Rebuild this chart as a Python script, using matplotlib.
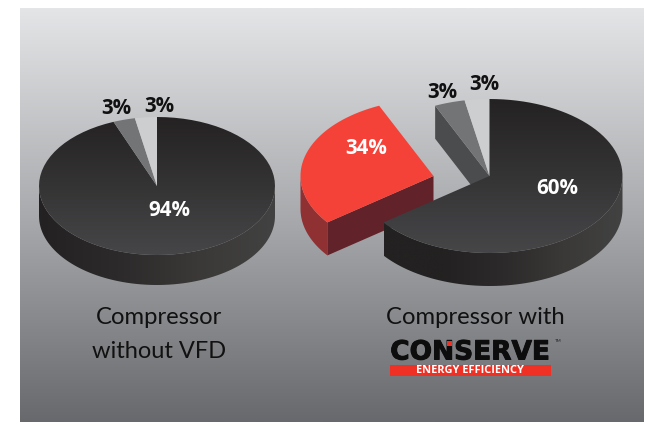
import numpy as np
import matplotlib
matplotlib.use("Agg", force=True)
import matplotlib.pyplot as plt
import matplotlib.patheffects as pe
from matplotlib.colors import LinearSegmentedColormap
from matplotlib.patches import Polygon, Rectangle

# wedge widths as drawn (%), clockwise from 12 o'clock; the artwork's 60/34 wedges
# are not drawn to their printed sizes, so the labels are kept separately
left_shares = [94, 3, 3]
left_labels = ["94%", "3%", "3%"]
right_shares = [64.7, 28.6, 3.7, 3.0]
right_labels = ["60%", "34%", "3%", "3%"]
captions_left = ["Compressor", "without VFD"]
caption_right = "Compressor with"
logo_name = "CONSERVE"
logo_tag = "ENERGY EFFICIENCY"

FONT = "Lato"
BOLD_FONT = "Open Sans"
DARK_TOP = ["#242222", "#464648"]
DARK_WALL = ["#232121", "#2c2a2a", "#3a3937", "#424242"]


def pt(c, r, theta):
    return (c[0] + r[0] * np.sin(theta), c[1] - r[1] * np.cos(theta))


def arc(c, r, a, b, n=80):
    th = np.linspace(a, b, n)
    return np.column_stack(pt(c, r, th))


def grad(ax, colors, box, vertical=True, clip=None, z=2):
    cmap = LinearSegmentedColormap.from_list("g", colors)
    ramp = np.linspace(0, 1, 256)
    img = ramp[:, None] if vertical else ramp[None, :]
    im = ax.imshow(img, cmap=cmap, extent=(box[0], box[2], box[3], box[1]),
                   aspect="auto", zorder=z, vmin=0, vmax=1, interpolation="bilinear",
                   origin="upper")
    if clip is not None:
        patch = Polygon(clip, closed=True, transform=ax.transData, fc="none", ec="none")
        ax.add_patch(patch)
        im.set_clip_path(patch)
    return im


def top_wedge(c, r, a, b):
    return np.vstack([[c], arc(c, r, a, b)])


def wall(c, r, depth, a, b):
    # only the front half of the rim is visible
    lo, hi = max(a, np.pi / 2), min(b, 3 * np.pi / 2)
    if hi <= lo:
        return None
    upper = arc(c, r, lo, hi)
    lower = upper[::-1] + [0, depth]
    return np.vstack([upper, lower])


def cut_face(c, r, depth, theta):
    p = np.array(pt(c, r, theta))
    c = np.array(c, dtype=float)
    return np.array([c, p, p + [0, depth], c + [0, depth]])


def edges(shares):
    return 2 * np.pi * np.cumsum([0] + list(shares)) / sum(shares)


fig = plt.figure(figsize=(6.59, 4.22), dpi=100, facecolor="white")
ax = fig.add_axes([0, 0, 1, 1])

# panel
grad(ax, ["#e4e5e7", "#a9aaad", "#68696c"], (20, 8, 644, 422), z=1)

# left pie
c, r, d = (157, 186), (118, 69), 30
e = edges(left_shares)
w = wall(c, r, d, e[0], e[1])
grad(ax, DARK_WALL, (39, 186, 276, 286), vertical=False, clip=w, z=2)
grad(ax, DARK_TOP, (39, 117, 276, 255), clip=top_wedge(c, r, e[0], e[1]), z=3)
ax.add_patch(Polygon(top_wedge(c, r, e[1], e[2]), fc="#737476", ec="none", zorder=3))
ax.add_patch(Polygon(top_wedge(c, r, e[2], e[3]), fc="#cdced0", ec="none", zorder=3))

# right pie
c, r, d = (489.5, 176), (133, 77), 33
e = edges(right_shares)
ax.add_patch(Polygon(cut_face(c, r, d, e[2]), fc="#4b4c4e", ec="none", zorder=2))
ax.add_patch(Polygon(top_wedge(c, r, e[2], e[3]), fc="#737476", ec="none", zorder=3))
ax.add_patch(Polygon(top_wedge(c, r, e[3], e[4]), fc="#cdced0", ec="none", zorder=3))
w = wall(c, r, d, e[0], e[1])
grad(ax, DARK_WALL[:1] * 2 + DARK_WALL[1:], (384, 176, 623, 286), vertical=False, clip=w, z=4)
grad(ax, DARK_TOP, (356, 99, 623, 253), clip=top_wedge(c, r, e[0], e[1]), z=5)

# exploded red wedge
c2 = (c[0] - 56, c[1])
w = wall(c2, r, d, e[1], e[2])
ax.add_patch(Polygon(w, fc="#8f3033", ec="none", zorder=3))
ax.add_patch(Polygon(cut_face(c2, r, d, e[1]), fc="#61222a", ec="none", zorder=3))
ax.add_patch(Polygon(top_wedge(c2, r, e[1], e[2]), fc="#f44239", ec="none", zorder=4))

# value labels
label_pos = [(169, 211, left_labels[0], "white"), (116, 109, left_labels[1], "#111111"),
             (159, 106, left_labels[2], "#111111"), (557, 189, right_labels[0], "white"),
             (366, 149, right_labels[1], "white"), (442, 92, right_labels[2], "#111111"),
             (484, 84, right_labels[3], "#111111")]
for x, y, s, col in label_pos:
    ax.text(x, y, s, color=col, fontsize=14.8, fontweight="bold", family=BOLD_FONT,
            ha="center", va="center", zorder=8)

# captions
ax.text(159, 318, captions_left[0], fontsize=17.2, family=FONT, color="#111111",
        ha="center", va="center", zorder=8)
ax.text(159, 351, captions_left[1], fontsize=17.0, family=FONT, color="#111111",
        ha="center", va="center", zorder=8)
ax.text(475, 318, caption_right, fontsize=17.2, family=FONT, color="#111111",
        ha="center", va="center", zorder=8)

# logo
ax.text(470, 352.5, logo_name, fontsize=19, fontweight="bold", family="DejaVu Sans",
        color="#0d0d0d", ha="center", va="center", zorder=8,
        path_effects=[pe.withStroke(linewidth=0.7, foreground="#0d0d0d")])
ax.add_patch(Rectangle((447, 341), 4.5, 4.5, fc="#ee3124", ec="none", zorder=9))
ax.add_patch(Rectangle((390, 365), 161, 11, fc="#ee3124", ec="none", zorder=8))
ax.text(470, 370.5, logo_tag, fontsize=7.9, fontweight="bold", family=BOLD_FONT, color="white",
        ha="center", va="center", zorder=9)
ax.text(558, 341, "TM", fontsize=3.2, family=FONT, color="#222222", ha="center", va="center", zorder=9)

ax.set_xlim(0, 659)
ax.set_ylim(422, 0)
ax.axis("off")
fig.savefig("out.png", dpi=100, facecolor="white")
